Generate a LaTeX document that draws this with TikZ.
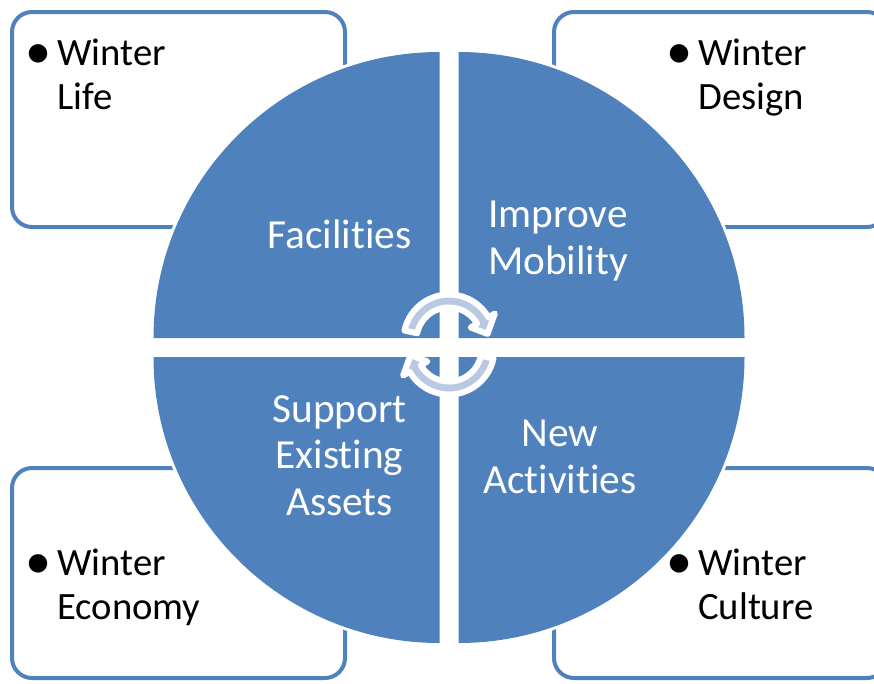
\documentclass[tikz,border=0pt]{standalone}
\usepackage{fontspec}
\setmainfont{Carlito}[Ligatures=NoCommon]
\usetikzlibrary{positioning}
\definecolor{cblue}{HTML}{4F81BD}
\definecolor{arrowblue}{HTML}{B9C9E2}
\newcommand{\bigdot}{\llap{\raisebox{-2.3pt}{\scalebox{1.35}{\textbullet}}\hspace{4.5pt}}}
\tikzset{frame/.style={
            draw=cblue,
            line width=3pt,
            rounded corners=15pt,
            fill=white
        },
        quarter/.style={
            fill=cblue,
            preaction={draw=white, line width=4.5pt}
        },
        turn/.style={
            fill=arrowblue,
            draw=white,
            line width=4.5pt,
            line join=round
        },
        inner/.style={
            text=white,
            align=center,
            inner sep=0pt,
            font=\fontsize{31}{35}\selectfont
        },
        item/.style={
            align=left,
            inner sep=0pt,
            anchor=north west,
            font=\fontsize{29}{32.6}\selectfont
        }
    }

\begin{document}
\begin{tikzpicture}[x=0.75pt,y=-0.75pt]
        \useasboundingbox (0,0) rectangle (874,683);
        \clip (0,0) rectangle (874,683);

        \draw[frame] (12,12) rectangle (345,227);
        \draw[frame] (554,12) rectangle (887,227);
        \draw[frame] (12,468) rectangle (345,678);
        \draw[frame] (554,468) rectangle (887,678);

        \node[item] (life) at (57,39) {\bigdot Winter\\Life};
        \node[item] (design) at (698,39) {\bigdot Winter\\Design};
        \node[item] (economy) at (57,549) {\bigdot Winter\\Economy};
        \node[item] (culture) at (698,549) {\bigdot Winter\\Culture};

        \path[quarter] (439.5,338) -- ++(-286,0) arc[start angle=180, end angle=270, radius=286] -- cycle;
        \path[quarter] (458.5,338) -- ++(0,-286) arc[start angle=270, end angle=360, radius=286] -- cycle;
        \path[quarter] (458.5,357) -- ++(286,0) arc[start angle=0, end angle=90, radius=286] -- cycle;
        \path[quarter] (439.5,357) -- ++(0,286) arc[start angle=90, end angle=180, radius=286] -- cycle;

        \node[inner, anchor=base] (facilities) at (339.5,248) {Facilities};
        \node[inner, anchor=north] (mobility) at (558,201) {Improve\\Mobility};
        \node[inner, anchor=north] (assets) at (339.5,395) {Support\\Existing\\Assets};
        \node[inner, anchor=north] (activities) at (560,420) {New\\Activities};

        \begin{scope}[shift={(449,340)}]
            \filldraw[turn] (-168:45.5) arc[start angle=-168, end angle=-30, radius=45.5]
                -- (-30:53) -- (-9:39) -- (-30:25) -- (-30:32.5)
                arc[start angle=-30, end angle=-168, radius=32.5] -- cycle;
        \end{scope}
        \begin{scope}[shift={(449,349)}, rotate=180]
            \filldraw[turn] (-168:45.5) arc[start angle=-168, end angle=-30, radius=45.5]
                -- (-30:53) -- (-9:39) -- (-30:25) -- (-30:32.5)
                arc[start angle=-30, end angle=-168, radius=32.5] -- cycle;
        \end{scope}

    \end{tikzpicture}
\end{document}
